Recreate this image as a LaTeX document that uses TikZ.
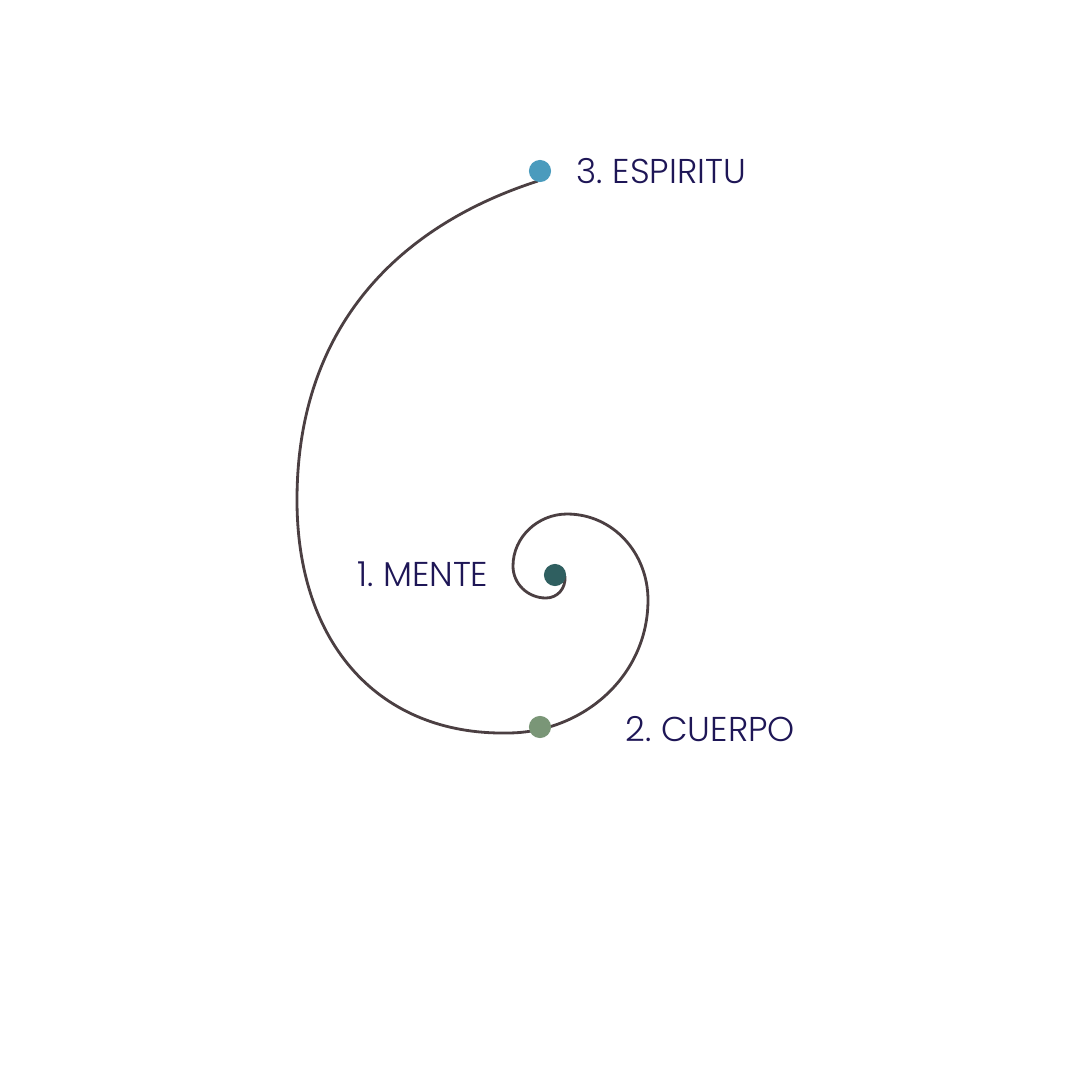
\documentclass[tikz,border=0pt]{standalone}
\usepackage{fontspec}
\setmainfont{Poppins Light}[WordSpace=0.7]
\definecolor{spiralline}{HTML}{4B3F42}
\definecolor{labeltext}{HTML}{1E1656}
\definecolor{dotmente}{HTML}{2F5F60}
\definecolor{dotcuerpo}{HTML}{7A9677}
\definecolor{dotespiritu}{HTML}{4A9BBD}
\tikzset{
  dot/.style={circle, minimum size=6.3pt, inner sep=0pt},
  lbl/.style={font=\fontsize{9.8}{11}\selectfont, text=labeltext, inner sep=0pt},
  spiral/.style={draw=spiralline, line width=0.8pt},
}
\begin{document}
\begin{tikzpicture}[x=0.1mm, y=-0.1mm]
    \useasboundingbox (0,0) rectangle (1080,1080);
    % spiral, from the centre outwards, one quarter turn per segment
    \draw[spiral] (565,576)
      .. controls (566,589) and (557,598) .. (546,598)
      .. controls (528,598) and (513,584) .. (513,566)
      .. controls (513,537) and (538,514) .. (567,514)
      .. controls (613,514) and (648,553) .. (648,600)
      .. controls (648,676) and (583,733) .. (507,733)
      .. controls (380,735) and (297,645) .. (297,500)
      .. controls (297,330) and (395,227) .. (538,181);
    \node[dot, fill=dotmente] (mente) at (555,575) {};
    \node[dot, fill=dotcuerpo] (cuerpo) at (540,727) {};
    \node[dot, fill=dotespiritu] (espiritu) at (540,171) {};
    \node[lbl, anchor=east] (mentelbl) at (489,574) {1. MENTE};
    \node[lbl, anchor=west] (cuerpolbl) at (625,729) {2. CUERPO};
    \node[lbl, anchor=west] (espiritulbl) at (576,171) {3. ESPIRITU};
\end{tikzpicture}
\end{document}
